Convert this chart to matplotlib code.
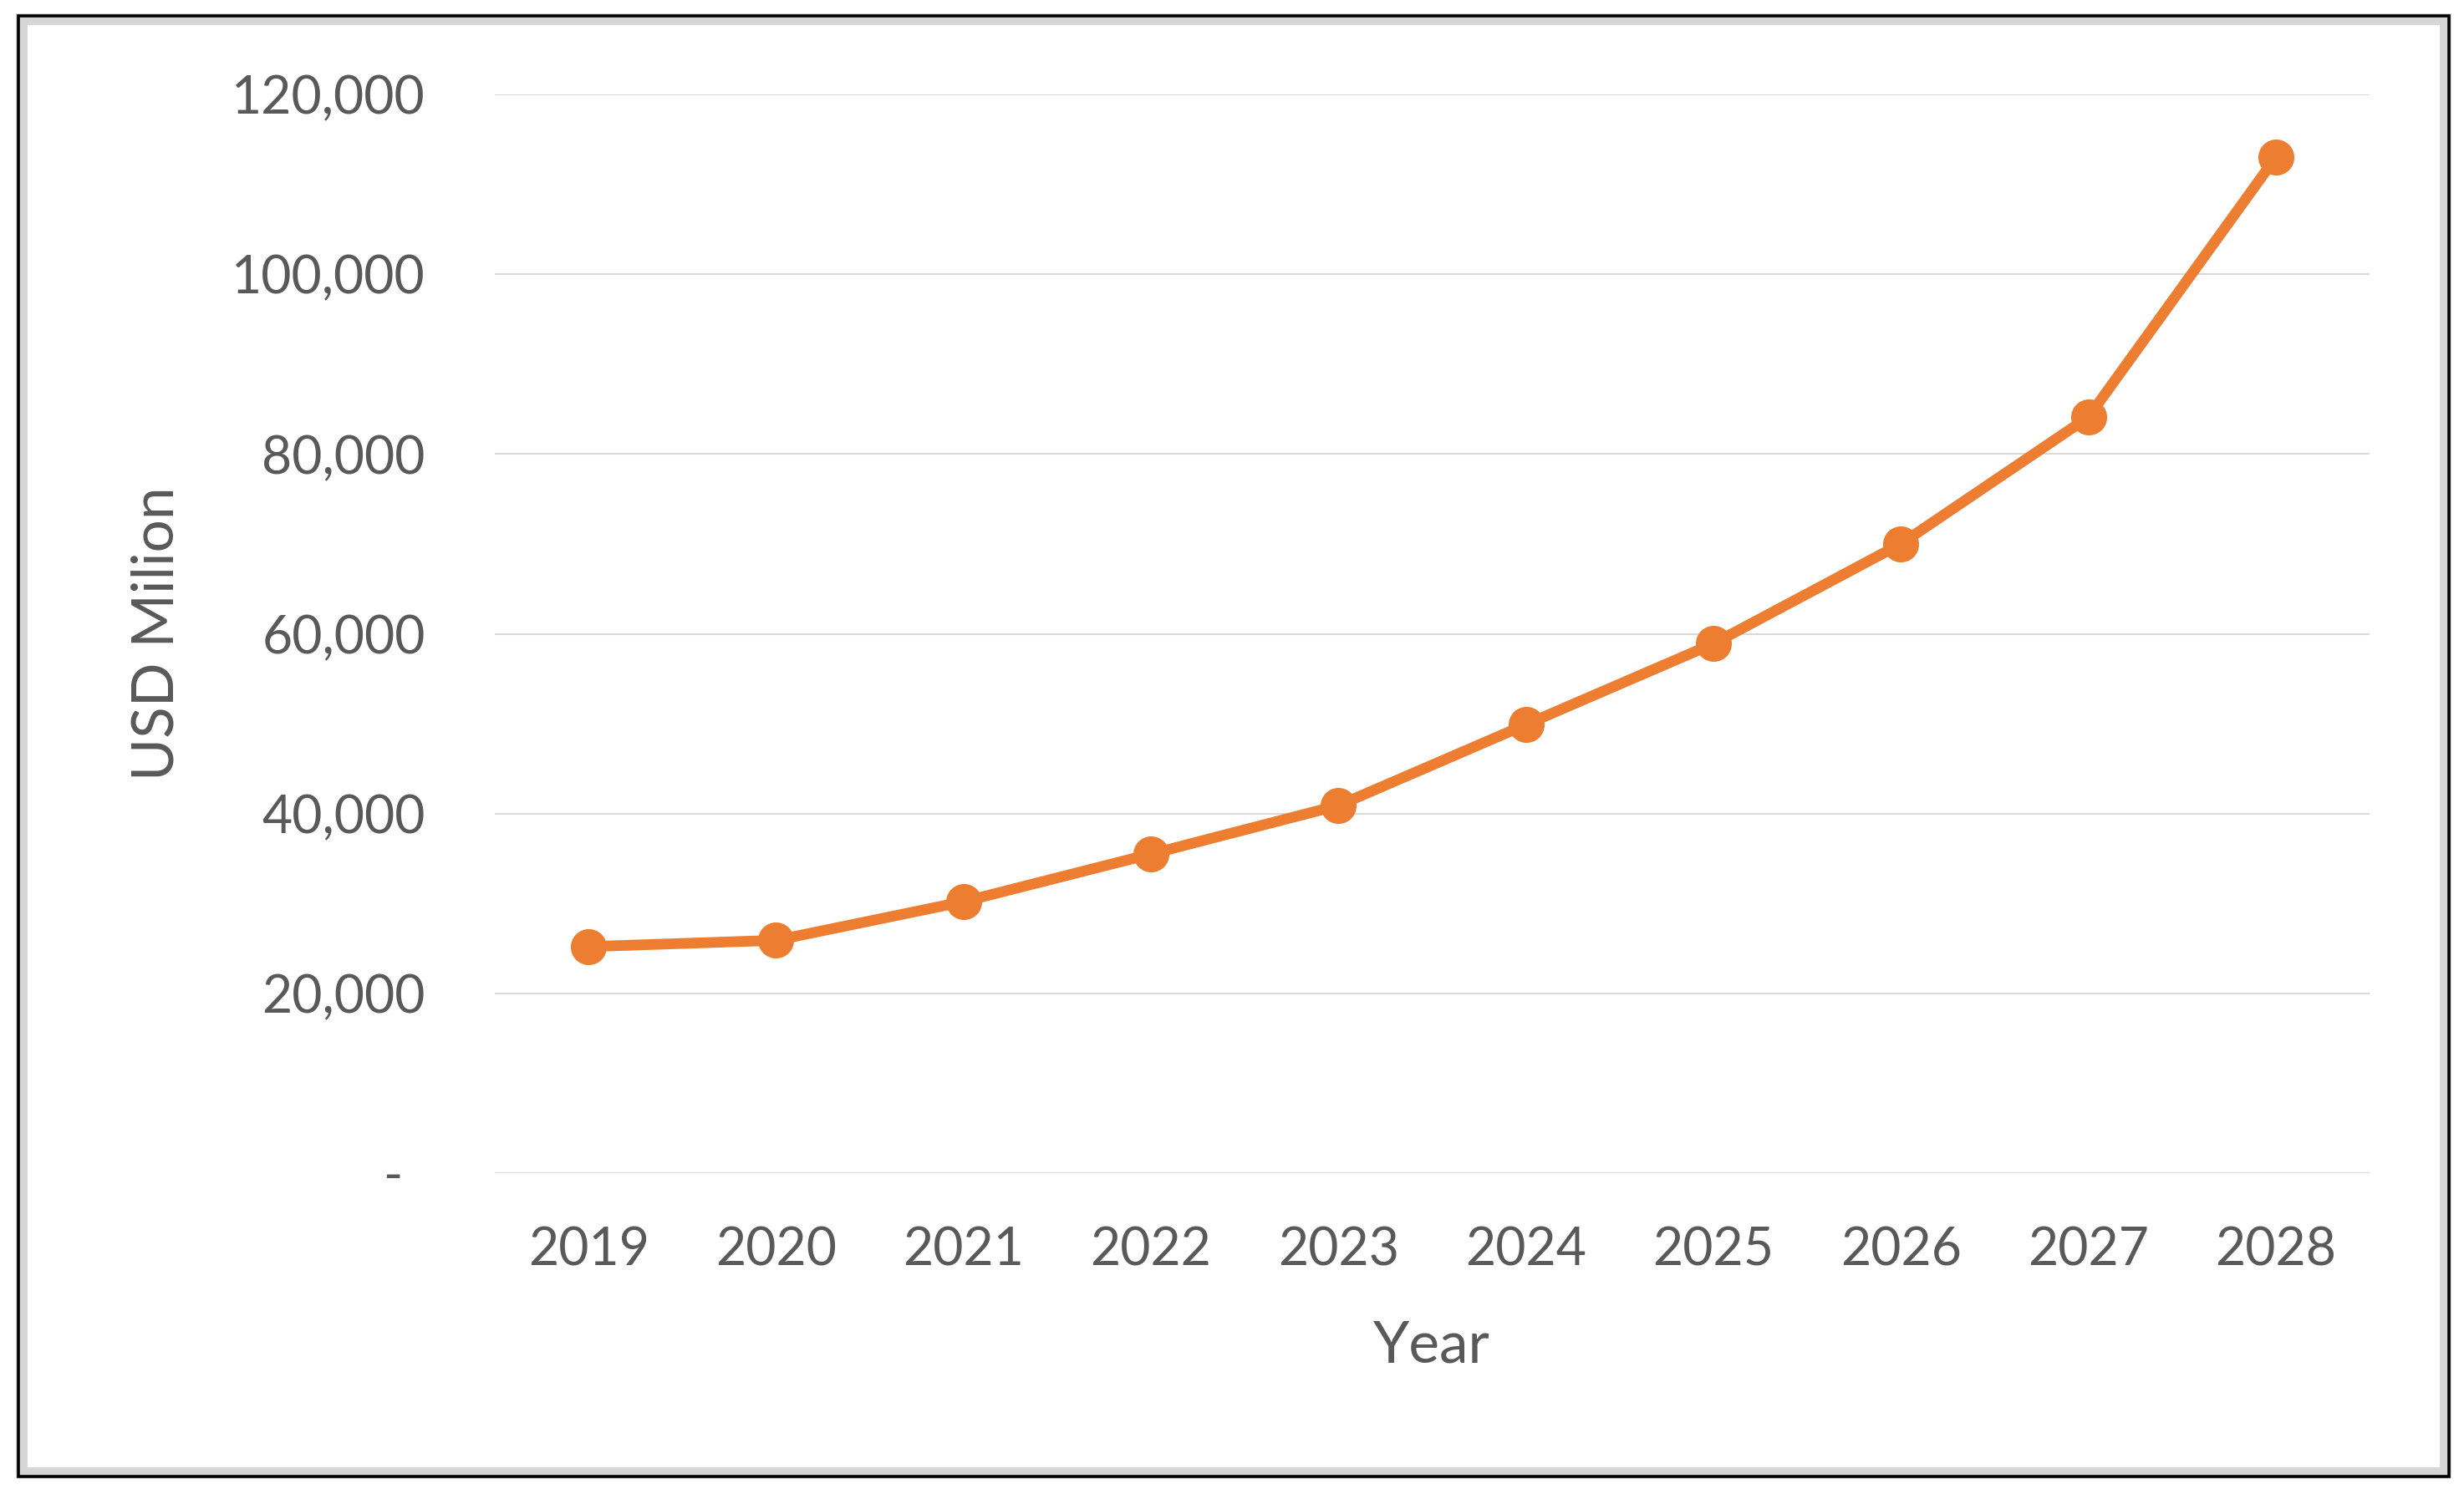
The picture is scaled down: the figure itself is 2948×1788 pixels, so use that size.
import matplotlib
matplotlib.use("Agg")
import matplotlib.pyplot as plt
from matplotlib.patches import Rectangle
from matplotlib.ticker import FuncFormatter
from matplotlib.transforms import ScaledTranslation

plt.rcParams['font.family'] = ['Lato', 'DejaVu Sans']

# data (USD million)
years = ['2019', '2020', '2021', '2022', '2023', '2024', '2025', '2026', '2027', '2028']
values = [25200, 25900, 30200, 35500, 40900, 49900, 58900, 70000, 84100, 113000]

text_color = '#595959'
line_color = '#ED7D31'
grid_color = '#D9D9D9'

W, H = 2948, 1788
fig = plt.figure(figsize=(W / 200, H / 200), dpi=200)
fig.patch.set_facecolor('white')

# plot area in pixels: x 592..2835, y 113..1404
ax = fig.add_axes([592 / W, 1 - 1404 / H, (2835 - 592) / W, (1404 - 113) / H])

x = list(range(len(years)))
ax.plot(x, values, color=line_color, linewidth=4.6, marker='o',
        markersize=14.5, markerfacecolor=line_color, markeredgecolor=line_color,
        solid_capstyle='round', solid_joinstyle='round', zorder=3)

ax.set_xlim(-0.5, len(years) - 0.5)
ax.set_ylim(0, 120000)
ax.set_yticks(range(0, 120001, 20000))
ax.set_xticks(x)
ax.set_xticklabels(years)
ax.yaxis.set_major_formatter(FuncFormatter(lambda v, p: '-' if v == 0 else f'{int(v):,}'))

ax.grid(axis='y', color=grid_color, linewidth=0.75)
ax.set_axisbelow(True)
for s in ax.spines.values():
    s.set_visible(False)
ax.tick_params(axis='both', length=0, colors=text_color, labelsize=22.5)
ax.tick_params(axis='y', pad=30)
ax.tick_params(axis='x', pad=23)

# the zero label sits a bit left, like the accounting format
for lab in ax.get_yticklabels():
    if lab.get_text() == '-':
        lab.set_transform(lab.get_transform() + ScaledTranslation(-10 / 72, 0, fig.dpi_scale_trans))

fig.text(1713 / W, 1 - 1611 / H, 'Year', ha='center', va='center',
         fontsize=25, color=text_color)
fig.text(188 / W, 1 - 758 / H, 'USD Milion', ha='center', va='center',
         rotation=90, fontsize=25, color=text_color)

# chart frame
fig.patches.append(Rectangle((26 / W, 1 - 1763 / H), (2926 - 26) / W, (1763 - 23) / H,
                             transform=fig.transFigure, fill=False,
                             edgecolor='#d6d6d6', linewidth=5, zorder=1))
fig.patches.append(Rectangle((22 / W, 1 - 1767 / H), (2930 - 22) / W, (1767 - 19) / H,
                             transform=fig.transFigure, fill=False,
                             edgecolor='black', linewidth=1.3, zorder=2))

fig.savefig('out.png', dpi=200, facecolor='white')
